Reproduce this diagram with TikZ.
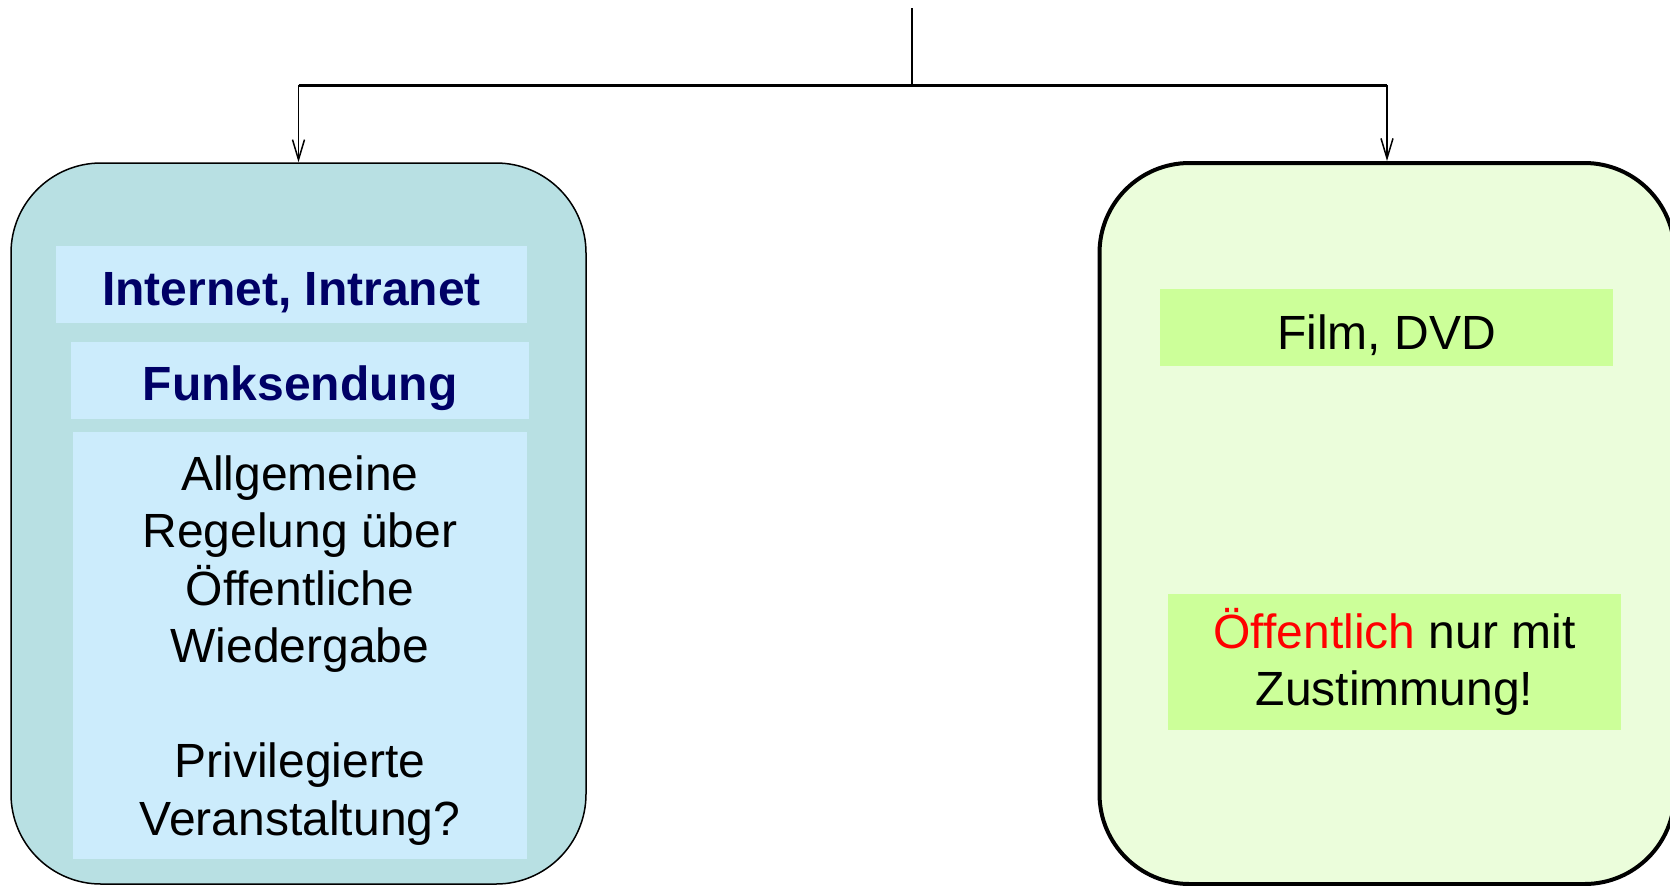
\documentclass[tikz,border=0pt]{standalone}
\usepackage{fontspec}
\setmainfont{Liberation Sans}
\usetikzlibrary{arrows.meta,positioning}
\definecolor{tealbg}{HTML}{B8E0E3}
\definecolor{bluebox}{HTML}{CCECFC}
\definecolor{navytext}{HTML}{000066}
\definecolor{greenbg}{HTML}{EBFDDB}
\definecolor{greenbox}{HTML}{CCFF99}
\newcommand\boxfont{\fontsize{24}{28.75}\selectfont}

\begin{document}
\begin{tikzpicture}[x=0.5pt,y=-0.5pt,>={Straight Barb[length=10pt,width=6pt]}]
    \tikzstyle{group}=[draw, rounded corners=45pt, minimum width=287.5pt, minimum height=360.5pt, inner sep=0pt]
    \tikzstyle{tag}=[inner sep=0pt, minimum height=38.5pt, align=center, font=\boxfont,
        execute at begin node={\rule{0pt}{25pt}}]

    \useasboundingbox (0,0) rectangle (1670,885);

    \node[group, fill=tealbg, line width=0.75pt] (online) at (298.5,523.5) {};
    \node[group, fill=greenbg, line width=2pt]   (offline) at (1387,523.5) {};

    \node[tag, fill=bluebox, minimum width=235.5pt, text=navytext, font=\boxfont\bfseries] (internet) at (291.5,284.5) {Internet, Intranet};
    \node[tag, fill=bluebox, minimum width=229pt, text=navytext, font=\boxfont\bfseries]   (funk) at (300,380.5) {Funksendung};
    \node[tag, fill=bluebox, minimum width=227pt, minimum height=213.5pt] (regel) at (300,645.5)
        {\rule{0pt}{22pt}Allgemeine\\Regelung über\\Öffentliche\\Wiedergabe\\[28.75pt]Privilegierte\\Veranstaltung?};

    \node[tag, fill=greenbox, minimum width=226.5pt] (film) at (1386.5,327.5) {Film, DVD};
    \node[tag, fill=greenbox, minimum width=226.5pt, minimum height=68pt] (consent) at (1394.5,662)
        {{\color{red}Öffentlich} nur mit\\Zustimmung!};

    \coordinate (root) at (912,8);
    \coordinate (fork) at (912,85);
    \coordinate (lturn) at (online.north |- fork);
    \coordinate (rturn) at (offline.north |- fork);
    \draw[line width=0.75pt] (root) -- (fork);
    \draw[line width=1.5pt] (lturn) -- (rturn);
    \draw[->, line width=0.75pt] (lturn) -- (online);
    \draw[->, line width=0.75pt] (rturn) -- (offline);
\end{tikzpicture}
\end{document}
